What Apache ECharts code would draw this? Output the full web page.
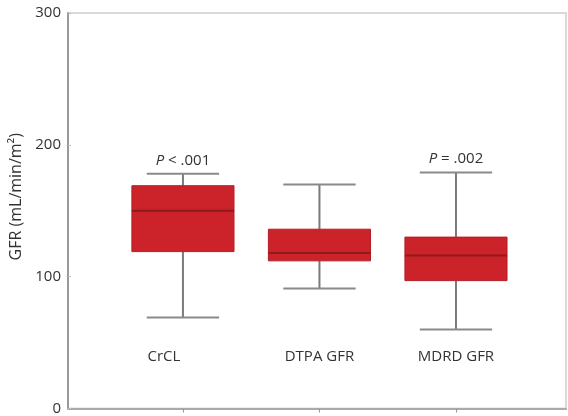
<!DOCTYPE html>
<html>
<head>
<meta charset="utf-8">
<script src="https://cdn.jsdelivr.net/npm/echarts@6/dist/echarts.min.js"></script>
<style>
  html, body { margin: 0; padding: 0; background: #fff; }
  #chart { width: 568px; height: 416px; }
</style>
</head>
<body>
<div id="chart"></div>
<script>
// GFR estimates by method (mL/min/m²)
var categories = ['CrCL', 'DTPA GFR', 'MDRD GFR'];
var lowerWhisker = [69, 91, 60];
var q1 = [119, 112, 97];
var median = [150, 118, 116];
var q3 = [169, 136, 130];
var upperWhisker = [178, 170, 179];
var pLabels = ['P < .001', '', 'P = .002'];
var yTicks = [0, 100, 200, 300];

var FONT = 'Open Sans';

var boxData = categories.map(function (c, i) {
  return [i, lowerWhisker[i], q1[i], median[i], q3[i], upperWhisker[i]];
});

function renderBox(params, api) {
  var i = api.value(0);
  var unit = api.size([1, 0])[0];
  var boxHalf = unit * 0.374;
  var capHalf = unit * 0.265;
  var pLow = api.coord([i, api.value(1)]);
  var pQ1 = api.coord([i, api.value(2)]);
  var pMed = api.coord([i, api.value(3)]);
  var pQ3 = api.coord([i, api.value(4)]);
  var pHigh = api.coord([i, api.value(5)]);
  var x = pLow[0];
  var whisker = { stroke: '#7a7a7a', lineWidth: 2 };
  var cap = { stroke: '#8a8a8a', lineWidth: 2 };
  var children = [
    { type: 'line', shape: { x1: x, y1: pHigh[1], x2: x, y2: pQ3[1] }, style: whisker },
    { type: 'line', shape: { x1: x, y1: pQ1[1], x2: x, y2: pLow[1] }, style: whisker },
    { type: 'line', shape: { x1: x - capHalf, y1: pHigh[1], x2: x + capHalf, y2: pHigh[1] }, style: cap },
    { type: 'line', shape: { x1: x - capHalf, y1: pLow[1], x2: x + capHalf, y2: pLow[1] }, style: cap },
    { type: 'rect', shape: { x: x - boxHalf, y: pQ3[1], width: boxHalf * 2, height: pQ1[1] - pQ3[1] },
      style: { fill: '#cc2229', stroke: '#b51d24', lineWidth: 1 } },
    { type: 'line', shape: { x1: x - boxHalf, y1: pMed[1], x2: x + boxHalf, y2: pMed[1] },
      style: { stroke: '#8c1a1e', lineWidth: 2 } }
  ];
  var label = pLabels[params.dataIndex];
  if (label) {
    var parts = label.split(' ');
    children.push({
      type: 'text',
      x: x, y: pHigh[1] - 6,
      style: {
        text: '{i|' + parts[0] + '} ' + parts.slice(1).join(' '),
        align: 'center', verticalAlign: 'bottom',
        fontFamily: FONT, fontSize: 15, fill: '#333',
        rich: { i: { fontStyle: 'italic', fontFamily: FONT, fontSize: 15, fill: '#333' } }
      }
    });
  }
  return { type: 'group', children: children };
}

var chart = echarts.init(document.getElementById('chart'), null, { renderer: 'canvas' });
chart.setOption({
  animation: false,
  backgroundColor: '#fff',
  grid: {
    left: 68, right: 2, top: 13, bottom: 4,
    show: true, borderColor: '#d9d9d9', borderWidth: 2, backgroundColor: 'transparent'
  },
  xAxis: {
    type: 'value',
    min: -0.842, max: 2.806,
    splitLine: { show: false },
    axisLine: { show: true, onZero: false, lineStyle: { color: '#a9a9a9', width: 2 } },
    axisTick: { show: true, customValues: [0, 1, 2], length: 4, lineStyle: { color: '#999' } },
    axisLabel: {
      show: true, customValues: [0, 1, 2], inside: true, margin: 44,
      fontFamily: FONT, fontSize: 15, color: '#333',
      formatter: function (v) {
        var i = Math.round(v);
        return i === 0 ? '{s|' + categories[i] + '}' : categories[i];
      },
      rich: { s: { fontFamily: FONT, fontSize: 15, color: '#333', padding: [0, 38, 0, 0] } }
    }
  },
  yAxis: {
    type: 'value',
    min: yTicks[0], max: yTicks[yTicks.length - 1], interval: 100,
    name: 'GFR (mL/min/m²)',
    nameLocation: 'middle', nameGap: 44,
    nameTextStyle: { fontFamily: FONT, fontSize: 16, color: '#333', padding: [0, 0, 0, 28] },
    splitLine: { show: false },
    axisLine: { show: true, onZero: false, lineStyle: { color: '#999', width: 2 } },
    axisTick: { show: true, inside: true, length: 3, lineStyle: { color: '#bbb' } },
    axisLabel: { fontFamily: FONT, fontSize: 15, color: '#333', margin: 7 }
  },
  series: [{
    type: 'custom',
    renderItem: renderBox,
    encode: { x: 0, y: [1, 2, 3, 4, 5] },
    data: boxData,
    clip: false
  }]
});
</script>
</body>
</html>
